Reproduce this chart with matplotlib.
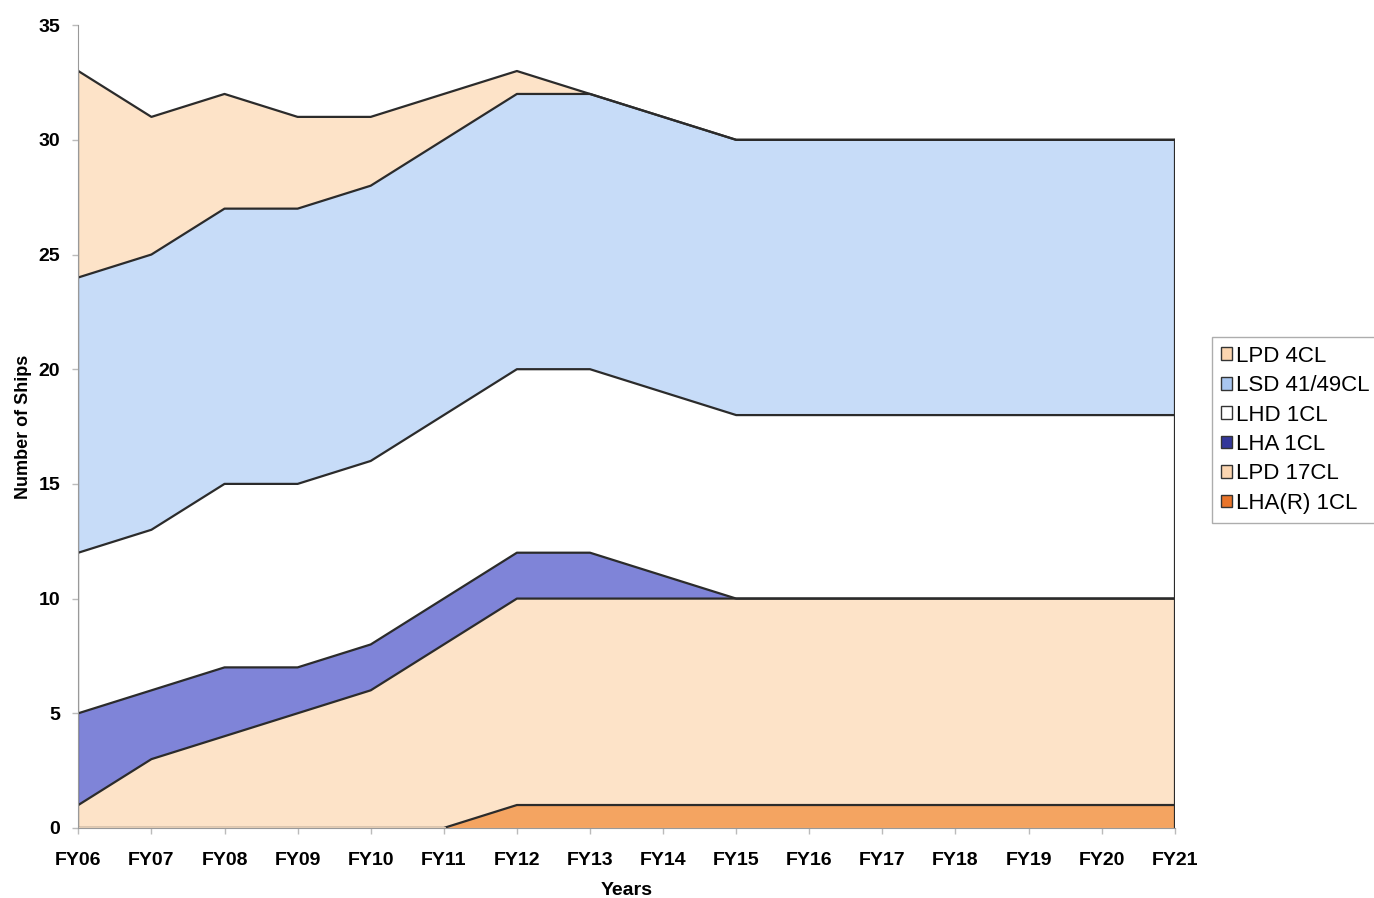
import numpy as np
import matplotlib
matplotlib.use("Agg")
import matplotlib.pyplot as plt
from matplotlib.patches import Patch

plt.rcParams['font.family'] = ['Liberation Sans', 'DejaVu Sans']

years = ['FY06', 'FY07', 'FY08', 'FY09', 'FY10', 'FY11', 'FY12', 'FY13',
         'FY14', 'FY15', 'FY16', 'FY17', 'FY18', 'FY19', 'FY20', 'FY21']

# ships per class, stacked bottom to top
lhar_1cl = [0, 0, 0, 0, 0, 0, 1, 1, 1, 1, 1, 1, 1, 1, 1, 1]
lpd_17cl = [1, 3, 4, 5, 6, 8, 9, 9, 9, 9, 9, 9, 9, 9, 9, 9]
lha_1cl = [4, 3, 3, 2, 2, 2, 2, 2, 1, 0, 0, 0, 0, 0, 0, 0]
lhd_1cl = [7, 7, 8, 8, 8, 8, 8, 8, 8, 8, 8, 8, 8, 8, 8, 8]
lsd_41_49cl = [12, 12, 12, 12, 12, 12, 12, 12, 12, 12, 12, 12, 12, 12, 12, 12]
lpd_4cl = [9, 6, 5, 4, 3, 2, 1, 0, 0, 0, 0, 0, 0, 0, 0, 0]

series = [lhar_1cl, lpd_17cl, lha_1cl, lhd_1cl, lsd_41_49cl, lpd_4cl]
labels = ['LHA(R) 1CL', 'LPD 17CL', 'LHA 1CL', 'LHD 1CL', 'LSD 41/49CL', 'LPD 4CL']
fill_colors = ['#F4A461', '#FDE3C8', '#7F84D8', '#FFFFFF', '#C7DCF8', '#FDE3C8']
legend_colors = ['#E8742A', '#FBD5B0', '#33379A', '#FFFFFF', '#A9C6F0', '#FBD5B0']

x = np.arange(len(years))

fig = plt.figure(figsize=(13.74, 8.98), dpi=100)
ax = fig.add_axes([0.057, 0.078, 0.798, 0.894])

bottom = np.zeros(len(years))
for vals, col in zip(series, fill_colors):
    top = bottom + np.array(vals)
    ax.fill_between(x, bottom, top, facecolor=col, edgecolor='none', zorder=1)
    ax.plot(x, top, color='#2b2b2b', lw=1.6, zorder=2)
    bottom = top

# hide the LHA(R) outline where it lies on the axis before FY11
ax.plot(x[:6], np.zeros(6), color='#FDE3C8', lw=2.0, zorder=2.5)
ax.plot([x[0], x[0]], [0, bottom[0]], color='#2b2b2b', lw=1.6, zorder=2)
ax.plot([x[-1], x[-1]], [0, bottom[-1]], color='#2b2b2b', lw=1.6, zorder=2)

ax.set_xlim(0, len(years) - 1)
ax.set_ylim(0, 35)
ax.set_xticks(x)
ax.set_xticklabels(years)
ax.set_yticks(np.arange(0, 36, 5))

for s in ['top', 'right']:
    ax.spines[s].set_visible(False)
for s in ['left', 'bottom']:
    ax.spines[s].set_color('#999999')
ax.tick_params(colors='#bbbbbb', labelcolor='black', length=4, width=1)
ax.tick_params(axis='x', pad=13)
ax.tick_params(axis='y', pad=9)
for lab in ax.get_xticklabels() + ax.get_yticklabels():
    lab.set_fontweight('bold')
    lab.set_fontsize(14)

ax.set_xlabel('Years', fontsize=14, fontweight='bold', labelpad=10)
ax.set_ylabel('Number of Ships', fontsize=13, fontweight='bold', labelpad=5)

handles = [Patch(facecolor=c, edgecolor='#333333', label=l)
           for c, l in zip(legend_colors, labels)]
handles = handles[::-1]
leg = fig.legend(handles=handles, loc='upper left', bbox_to_anchor=(0.882, 0.625),
                 fontsize=16, frameon=True, fancybox=False, handlelength=0.5,
                 handleheight=0.5, handletextpad=0.2, labelspacing=0.38,
                 borderpad=0.4, borderaxespad=0, edgecolor='#999999')
leg.get_frame().set_linewidth(1.0)

fig.savefig('out.png', dpi=100)
